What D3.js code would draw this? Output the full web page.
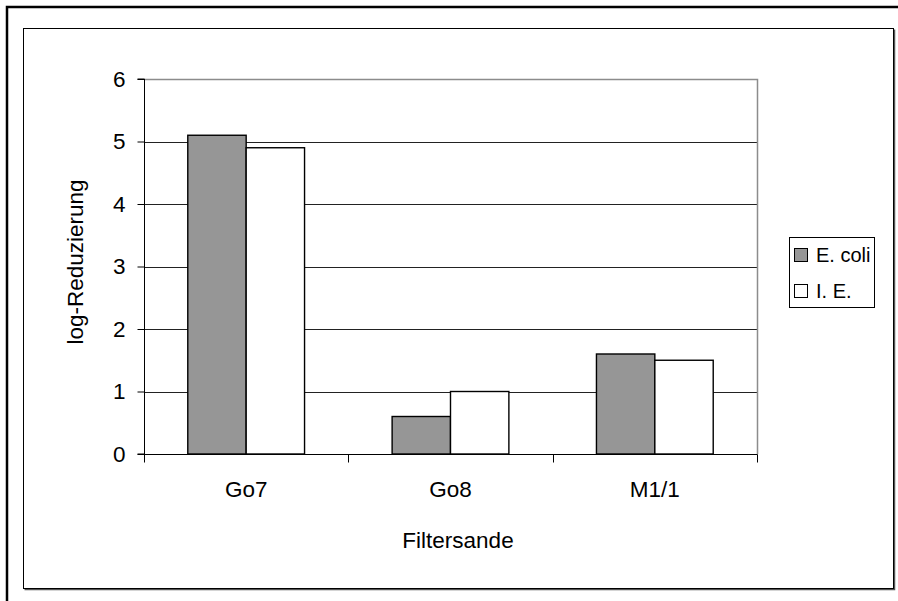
<!DOCTYPE html>
<html>
<head>
<meta charset="utf-8">
<script src="https://cdn.jsdelivr.net/npm/d3@7"></script>
<style>
  html, body { margin: 0; padding: 0; background: #fff; }
  svg { display: block; }
  text { font-family: "Liberation Sans", Arial, sans-serif; fill: #000; }
</style>
</head>
<body>
<script>
// Log reduction per filter sand
const categories = ["Go7", "Go8", "M1/1"];
const seriesNames = ["E. coli", "I. E."];
const ecoli = [5.1, 0.6, 1.6];
const ie = [4.9, 1.0, 1.5];
const yTicks = [0, 1, 2, 3, 4, 5, 6];
const seriesFill = ["#969696", "#ffffff"];

const W = 898, H = 601;
const svg = d3.select("body").append("svg").attr("width", W).attr("height", H);

// Outer frame (only top and left edges fall inside the view)
svg.append("rect")
  .attr("x", 7).attr("y", 7).attr("width", W + 20).attr("height", H + 20)
  .attr("fill", "none").attr("stroke", "#000").attr("stroke-width", 2.5);

// Chart area box with a slight shadow on right/bottom
svg.append("path")
  .attr("d", "M894.5,29.5 V589.5 H24.5")
  .attr("fill", "none").attr("stroke", "#555").attr("stroke-width", 1.5);
svg.append("rect")
  .attr("x", 23.5).attr("y", 28.5).attr("width", 870).attr("height", 560)
  .attr("fill", "none").attr("stroke", "#000").attr("stroke-width", 1);

const plot = { left: 144, right: 757, top: 79, bottom: 454 };

const x = d3.scaleBand().domain(categories).range([plot.left, plot.right]).padding(0);
const gapRatio = 1.5; // gap width relative to one bar
const barW = x.bandwidth() / (seriesNames.length + gapRatio);
const xs = d3.scaleBand().domain(seriesNames)
  .range([barW * gapRatio / 2, x.bandwidth() - barW * gapRatio / 2]).padding(0);
const y = d3.scaleLinear().domain([0, 6]).range([plot.bottom, plot.top]);

// Horizontal gridlines
svg.append("g").selectAll("line").data(yTicks.filter(d => d > 0 && d < 6)).join("line")
  .attr("x1", plot.left).attr("x2", plot.right)
  .attr("y1", d => Math.round(y(d)) + 0.5).attr("y2", d => Math.round(y(d)) + 0.5)
  .attr("stroke", "#222").attr("stroke-width", 1);

// Plot area border (top and right in grey)
svg.append("path")
  .attr("d", `M${plot.left},${y(6) + 0.5} H${plot.right + 0.5} V${plot.bottom}`)
  .attr("fill", "none").attr("stroke", "#8c8c8c").attr("stroke-width", 1.5);

// Bars
const rows = categories.map((c, i) => ({ cat: c, vals: [ecoli[i], ie[i]] }));
const groups = svg.append("g").selectAll("g").data(rows).join("g")
  .attr("transform", d => `translate(${x(d.cat)},0)`);
groups.selectAll("rect").data(d => d.vals.map((v, j) => ({ v, s: seriesNames[j], j }))).join("rect")
  .attr("x", d => xs(d.s))
  .attr("y", d => y(d.v))
  .attr("width", xs.bandwidth())
  .attr("height", d => y(0) - y(d.v))
  .attr("fill", d => seriesFill[d.j])
  .attr("stroke", "#000").attr("stroke-width", 1.4);

// Y axis
const yAxis = d3.axisLeft(y).tickValues(yTicks).tickSize(7).tickPadding(12).tickFormat(d3.format("d"));
const gy = svg.append("g").attr("transform", `translate(${plot.left + 0.5},0)`).call(yAxis);
gy.select(".domain").attr("stroke", "#000").attr("d", `M-7,${y(6)}H0V${y(0)}H-7`);
gy.selectAll(".tick line").attr("stroke", "#000");
gy.selectAll(".tick text").attr("font-size", 22.5).attr("font-family", "Liberation Sans, Arial, sans-serif").attr("fill", "#000");

// X axis: ticks at category boundaries
const gx = svg.append("g").attr("transform", `translate(0,${plot.bottom + 0.5})`);
gx.append("line").attr("x1", plot.left).attr("x2", plot.right + 0.5).attr("y1", 0).attr("y2", 0)
  .attr("stroke", "#000").attr("stroke-width", 1.2);
const bounds = categories.map(c => x(c)).concat([plot.right]);
gx.selectAll("line.tk").data(bounds).join("line").attr("class", "tk")
  .attr("x1", d => Math.round(d) + 0.5).attr("x2", d => Math.round(d) + 0.5)
  .attr("y1", 0).attr("y2", 8).attr("stroke", "#000");
gx.selectAll("text").data(categories).join("text")
  .attr("x", d => x(d) + x.bandwidth() / 2).attr("y", 42)
  .attr("text-anchor", "middle").attr("font-size", 22.5).text(d => d);

// Axis titles
svg.append("text").attr("x", 458).attr("y", 548)
  .attr("text-anchor", "middle").attr("font-size", 22.5).text("Filtersande");
svg.append("text").attr("transform", "translate(83,262) rotate(-90)")
  .attr("text-anchor", "middle").attr("font-size", 22.5).text("log-Reduzierung");

// Legend
const lg = svg.append("g");
lg.append("rect").attr("x", 789.5).attr("y", 237.5).attr("width", 85).attr("height", 70)
  .attr("fill", "#fff").attr("stroke", "#000").attr("stroke-width", 1);
seriesNames.forEach((s, i) => {
  const yy = 248 + i * 36;
  lg.append("rect").attr("x", 794.5).attr("y", yy + 0.5).attr("width", 13).attr("height", 13)
    .attr("fill", seriesFill[i]).attr("stroke", "#000").attr("stroke-width", 1);
  lg.append("text").attr("x", 816).attr("y", yy + 14).attr("font-size", 20).text(s);
});
</script>
</body>
</html>
